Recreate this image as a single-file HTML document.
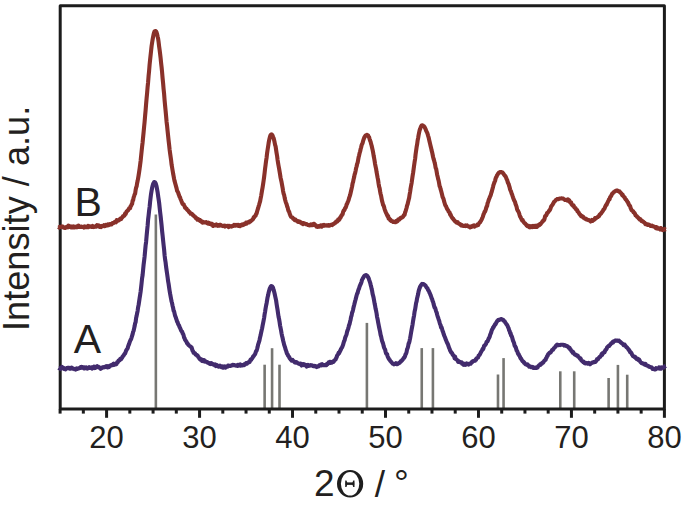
<!DOCTYPE html>
<html><head><meta charset="utf-8"><style>
html,body{margin:0;padding:0;background:#fff;}
body{width:685px;height:506px;position:relative;overflow:hidden;font-family:"Liberation Sans",sans-serif;color:#231f20;}
.tl{position:absolute;top:420.5px;width:60px;text-align:center;font-size:31px;line-height:34px;}
.xt{position:absolute;left:314px;top:464px;font-size:37px;line-height:40px;white-space:nowrap;}
.yt{position:absolute;left:0;top:0;font-size:36.2px;line-height:40px;white-space:nowrap;transform-origin:0 0;transform:translate(-3px,331px) rotate(-90deg);}
.lb{position:absolute;font-size:41px;line-height:44px;}
#w{position:absolute;left:0;top:0;width:685px;height:506px;}
</style></head><body><div id="w">
<svg width="685" height="506" viewBox="0 0 685 506" style="position:absolute;left:0;top:0">
<line x1="155.86" y1="214.5" x2="155.86" y2="408.1" stroke="#777773" stroke-width="2.6"/>
<line x1="264.63" y1="364.7" x2="264.63" y2="408.1" stroke="#777773" stroke-width="2.6"/>
<line x1="272.07" y1="348.2" x2="272.07" y2="408.1" stroke="#777773" stroke-width="2.6"/>
<line x1="279.51" y1="364.7" x2="279.51" y2="408.1" stroke="#777773" stroke-width="2.6"/>
<line x1="366.90" y1="322.9" x2="366.90" y2="408.1" stroke="#777773" stroke-width="2.6"/>
<line x1="421.75" y1="348.1" x2="421.75" y2="408.1" stroke="#777773" stroke-width="2.6"/>
<line x1="432.91" y1="348.1" x2="432.91" y2="408.1" stroke="#777773" stroke-width="2.6"/>
<line x1="497.99" y1="374.5" x2="497.99" y2="408.1" stroke="#777773" stroke-width="2.6"/>
<line x1="503.57" y1="358.1" x2="503.57" y2="408.1" stroke="#777773" stroke-width="2.6"/>
<line x1="560.28" y1="371.3" x2="560.28" y2="408.1" stroke="#777773" stroke-width="2.6"/>
<line x1="574.22" y1="371.3" x2="574.22" y2="408.1" stroke="#777773" stroke-width="2.6"/>
<line x1="608.62" y1="378" x2="608.62" y2="408.1" stroke="#777773" stroke-width="2.6"/>
<line x1="617.92" y1="364.9" x2="617.92" y2="408.1" stroke="#777773" stroke-width="2.6"/>
<line x1="627.22" y1="374.7" x2="627.22" y2="408.1" stroke="#777773" stroke-width="2.6"/>
<rect x="60.2" y="5.8" width="604.2" height="403.3" fill="none" stroke="#1c1c1c" stroke-width="3.0" stroke-linejoin="round"/>
<line x1="60.10" y1="409.1" x2="60.10" y2="413.6" stroke="#1c1c1c" stroke-width="3.0"/>
<line x1="83.34" y1="409.1" x2="83.34" y2="413.6" stroke="#1c1c1c" stroke-width="3.0"/>
<line x1="106.59" y1="409.1" x2="106.59" y2="417.8" stroke="#1c1c1c" stroke-width="3.0"/>
<line x1="129.83" y1="409.1" x2="129.83" y2="413.6" stroke="#1c1c1c" stroke-width="3.0"/>
<line x1="153.07" y1="409.1" x2="153.07" y2="413.6" stroke="#1c1c1c" stroke-width="3.0"/>
<line x1="176.31" y1="409.1" x2="176.31" y2="413.6" stroke="#1c1c1c" stroke-width="3.0"/>
<line x1="199.56" y1="409.1" x2="199.56" y2="417.8" stroke="#1c1c1c" stroke-width="3.0"/>
<line x1="222.80" y1="409.1" x2="222.80" y2="413.6" stroke="#1c1c1c" stroke-width="3.0"/>
<line x1="246.04" y1="409.1" x2="246.04" y2="413.6" stroke="#1c1c1c" stroke-width="3.0"/>
<line x1="269.28" y1="409.1" x2="269.28" y2="413.6" stroke="#1c1c1c" stroke-width="3.0"/>
<line x1="292.53" y1="409.1" x2="292.53" y2="417.8" stroke="#1c1c1c" stroke-width="3.0"/>
<line x1="315.77" y1="409.1" x2="315.77" y2="413.6" stroke="#1c1c1c" stroke-width="3.0"/>
<line x1="339.01" y1="409.1" x2="339.01" y2="413.6" stroke="#1c1c1c" stroke-width="3.0"/>
<line x1="362.25" y1="409.1" x2="362.25" y2="413.6" stroke="#1c1c1c" stroke-width="3.0"/>
<line x1="385.50" y1="409.1" x2="385.50" y2="417.8" stroke="#1c1c1c" stroke-width="3.0"/>
<line x1="408.74" y1="409.1" x2="408.74" y2="413.6" stroke="#1c1c1c" stroke-width="3.0"/>
<line x1="431.98" y1="409.1" x2="431.98" y2="413.6" stroke="#1c1c1c" stroke-width="3.0"/>
<line x1="455.22" y1="409.1" x2="455.22" y2="413.6" stroke="#1c1c1c" stroke-width="3.0"/>
<line x1="478.47" y1="409.1" x2="478.47" y2="417.8" stroke="#1c1c1c" stroke-width="3.0"/>
<line x1="501.71" y1="409.1" x2="501.71" y2="413.6" stroke="#1c1c1c" stroke-width="3.0"/>
<line x1="524.95" y1="409.1" x2="524.95" y2="413.6" stroke="#1c1c1c" stroke-width="3.0"/>
<line x1="548.19" y1="409.1" x2="548.19" y2="413.6" stroke="#1c1c1c" stroke-width="3.0"/>
<line x1="571.44" y1="409.1" x2="571.44" y2="417.8" stroke="#1c1c1c" stroke-width="3.0"/>
<line x1="594.68" y1="409.1" x2="594.68" y2="413.6" stroke="#1c1c1c" stroke-width="3.0"/>
<line x1="617.92" y1="409.1" x2="617.92" y2="413.6" stroke="#1c1c1c" stroke-width="3.0"/>
<line x1="641.16" y1="409.1" x2="641.16" y2="413.6" stroke="#1c1c1c" stroke-width="3.0"/>
<line x1="664.41" y1="409.1" x2="664.41" y2="417.8" stroke="#1c1c1c" stroke-width="3.0"/>
<polyline fill="none" stroke="#89312a" stroke-width="4.1" stroke-linejoin="round" points="58.6,226.9 59.1,227.5 59.6,226.9 60.1,227.2 60.6,227.0 61.1,226.7 61.6,226.4 62.1,226.4 62.6,226.5 63.1,227.4 63.6,227.6 64.1,227.4 64.6,227.9 65.1,227.3 65.6,227.8 66.1,227.2 66.6,226.9 67.1,226.7 67.6,226.5 68.1,227.3 68.6,225.7 69.1,226.4 69.6,226.9 70.1,226.8 70.6,226.5 71.1,227.4 71.6,226.5 72.1,226.6 72.6,227.4 73.1,226.7 73.6,226.3 74.1,227.5 74.6,227.4 75.1,227.3 75.6,226.8 76.1,227.0 76.6,226.4 77.1,227.3 77.6,226.9 78.1,226.8 78.6,225.7 79.1,226.7 79.6,227.0 80.1,226.9 80.6,226.8 81.1,226.6 81.6,226.5 82.1,227.0 82.6,227.0 83.1,227.0 83.6,226.8 84.1,227.6 84.6,226.5 85.1,226.9 85.6,226.7 86.1,227.2 86.6,227.2 87.1,227.0 87.6,226.8 88.1,225.9 88.6,227.2 89.1,226.6 89.6,226.4 90.1,226.5 90.6,226.4 91.1,226.8 91.6,226.9 92.1,226.8 92.6,226.0 93.1,227.0 93.6,227.1 94.1,227.0 94.6,226.6 95.1,226.6 95.6,226.6 96.1,225.9 96.6,226.5 97.1,225.2 97.6,225.5 98.1,225.8 98.6,225.3 99.1,226.0 99.6,226.9 100.1,226.9 100.6,226.5 101.1,227.0 101.6,226.3 102.1,225.9 102.6,226.0 103.1,225.8 103.6,226.1 104.1,225.2 104.6,226.1 105.1,225.4 105.6,225.8 106.1,224.8 106.6,225.1 107.1,225.1 107.6,225.3 108.1,224.3 108.6,225.2 109.1,224.6 109.6,224.1 110.1,224.6 110.6,224.1 111.1,224.3 111.6,224.5 112.1,223.7 112.6,223.0 113.1,222.9 113.6,223.0 114.1,222.7 114.6,222.1 115.1,221.8 115.6,222.0 116.1,222.3 116.6,220.1 117.1,221.1 117.6,220.5 118.1,220.6 118.6,220.5 119.1,220.0 119.6,219.3 120.1,218.9 120.6,218.4 121.1,219.1 121.6,218.1 122.1,217.5 122.6,217.0 123.1,216.1 123.6,216.1 124.1,215.9 124.6,215.2 125.1,213.6 125.6,214.1 126.1,212.7 126.6,211.6 127.1,211.2 127.6,210.6 128.1,210.3 128.6,209.3 129.1,208.4 129.6,208.2 130.1,208.2 130.6,206.3 131.1,205.7 131.6,204.4 132.1,204.0 132.6,200.8 133.1,200.3 133.6,197.7 134.1,196.2 134.6,194.5 135.1,193.7 135.6,190.2 136.1,187.6 136.6,186.5 137.1,183.3 137.6,181.0 138.1,178.3 138.6,175.4 139.1,172.1 139.6,168.7 140.1,164.9 140.6,161.0 141.1,156.1 141.6,151.4 142.1,146.6 142.6,142.4 143.1,137.2 143.6,132.3 144.1,126.9 144.6,121.9 145.1,115.8 145.6,110.4 146.1,104.0 146.6,98.4 147.1,93.1 147.6,87.1 148.1,82.2 148.6,75.9 149.1,70.9 149.6,64.6 150.1,59.8 150.6,55.2 151.1,50.6 151.6,46.0 152.1,42.8 152.6,39.7 153.1,36.8 153.6,34.3 154.1,32.6 154.6,31.4 155.1,31.0 155.6,31.1 156.1,31.4 156.6,32.4 157.1,34.3 157.6,36.5 158.1,38.4 158.6,42.1 159.1,46.2 159.6,49.7 160.1,53.7 160.6,58.1 161.1,63.0 161.6,67.2 162.1,72.4 162.6,78.2 163.1,83.2 163.6,89.1 164.1,93.8 164.6,100.3 165.1,105.7 165.6,110.8 166.1,116.2 166.6,121.9 167.1,126.0 167.6,131.0 168.1,135.7 168.6,140.5 169.1,144.7 169.6,149.4 170.1,153.2 170.6,156.7 171.1,160.3 171.6,164.7 172.1,167.5 172.6,170.5 173.1,173.5 173.6,176.1 174.1,178.9 174.6,181.2 175.1,182.9 175.6,184.8 176.1,186.6 176.6,188.3 177.1,190.9 177.6,191.5 178.1,192.4 178.6,194.1 179.1,195.3 179.6,196.8 180.1,197.5 180.6,199.1 181.1,200.1 181.6,201.5 182.1,202.8 182.6,204.0 183.1,204.3 183.6,204.2 184.1,205.3 184.6,206.3 185.1,207.7 185.6,207.9 186.1,208.7 186.6,208.8 187.1,209.7 187.6,210.3 188.1,210.4 188.6,211.4 189.1,212.1 189.6,212.1 190.1,213.0 190.6,213.7 191.1,213.5 191.6,213.8 192.1,214.1 192.6,214.5 193.1,215.3 193.6,215.6 194.1,216.2 194.6,216.6 195.1,216.8 195.6,217.5 196.1,218.4 196.6,218.2 197.1,218.7 197.6,219.8 198.1,219.8 198.6,219.3 199.1,220.0 199.6,219.8 200.1,221.0 200.6,220.5 201.1,221.2 201.6,222.0 202.1,221.6 202.6,222.6 203.1,222.0 203.6,222.5 204.1,222.3 204.6,222.4 205.1,222.5 205.6,222.4 206.1,222.1 206.6,222.9 207.1,223.0 207.6,223.4 208.1,223.6 208.6,222.7 209.1,223.8 209.6,223.9 210.1,223.3 210.6,224.1 211.1,224.4 211.6,223.9 212.1,223.9 212.6,224.6 213.1,226.0 213.6,225.3 214.1,224.9 214.6,225.3 215.1,225.1 215.6,225.3 216.1,225.5 216.6,224.5 217.1,225.5 217.6,225.8 218.1,225.1 218.6,225.0 219.1,225.6 219.6,224.8 220.1,224.9 220.6,224.9 221.1,225.5 221.6,225.8 222.1,225.7 222.6,225.9 223.1,226.1 223.6,226.0 224.1,225.6 224.6,225.9 225.1,226.6 225.6,225.8 226.1,226.1 226.6,226.0 227.1,226.1 227.6,225.7 228.1,225.7 228.6,227.1 229.1,226.5 229.6,225.9 230.1,226.2 230.6,226.5 231.1,226.1 231.6,226.5 232.1,226.0 232.6,226.0 233.1,226.0 233.6,225.7 234.1,224.8 234.6,225.6 235.1,225.6 235.6,225.6 236.1,225.0 236.6,225.5 237.1,225.6 237.6,224.9 238.1,224.8 238.6,225.8 239.1,225.2 239.6,225.9 240.1,226.2 240.6,225.0 241.1,224.8 241.6,225.0 242.1,225.2 242.6,224.4 243.1,225.1 243.6,224.8 244.1,224.4 244.6,223.7 245.1,224.0 245.6,223.7 246.1,222.6 246.6,223.6 247.1,222.5 247.6,222.6 248.1,222.1 248.6,222.3 249.1,222.4 249.6,221.5 250.1,221.0 250.6,221.3 251.1,220.6 251.6,220.4 252.1,220.1 252.6,219.4 253.1,219.2 253.6,217.5 254.1,217.3 254.6,216.2 255.1,216.1 255.6,215.8 256.1,214.0 256.6,213.5 257.1,211.5 257.6,209.7 258.1,208.3 258.6,206.4 259.1,204.8 259.6,203.0 260.1,201.3 260.6,198.7 261.1,196.1 261.6,193.1 262.1,190.1 262.6,187.3 263.1,184.1 263.6,180.7 264.1,177.1 264.6,173.1 265.1,168.5 265.6,164.8 266.1,160.8 266.6,157.6 267.1,153.1 267.6,149.7 268.1,146.6 268.6,143.2 269.1,140.4 269.6,138.2 270.1,136.3 270.6,135.1 271.1,134.5 271.6,134.4 272.1,134.8 272.6,135.6 273.1,137.0 273.6,138.1 274.1,140.1 274.6,142.3 275.1,144.8 275.6,146.4 276.1,149.9 276.6,153.1 277.1,156.0 277.6,160.0 278.1,163.1 278.6,166.0 279.1,168.6 279.6,171.7 280.1,174.7 280.6,177.9 281.1,180.0 281.6,182.3 282.1,185.1 282.6,187.8 283.1,191.1 283.6,193.7 284.1,194.8 284.6,197.5 285.1,199.7 285.6,201.6 286.1,203.0 286.6,204.3 287.1,206.3 287.6,207.4 288.1,209.6 288.6,211.2 289.1,211.6 289.6,213.5 290.1,214.7 290.6,216.0 291.1,216.8 291.6,217.2 292.1,217.2 292.6,217.7 293.1,218.7 293.6,218.5 294.1,219.1 294.6,220.1 295.1,220.0 295.6,219.7 296.1,220.4 296.6,220.9 297.1,220.8 297.6,221.6 298.1,221.8 298.6,221.3 299.1,221.6 299.6,222.0 300.1,221.8 300.6,222.6 301.1,222.6 301.6,223.3 302.1,222.9 302.6,223.0 303.1,224.1 303.6,223.2 304.1,223.4 304.6,223.4 305.1,223.7 305.6,223.7 306.1,224.2 306.6,224.1 307.1,224.4 307.6,224.9 308.1,225.1 308.6,225.2 309.1,224.9 309.6,225.4 310.1,225.3 310.6,225.3 311.1,224.5 311.6,225.2 312.1,224.6 312.6,225.1 313.1,224.6 313.6,223.9 314.1,223.9 314.6,225.1 315.1,224.6 315.6,225.6 316.1,225.5 316.6,226.7 317.1,226.2 317.6,226.9 318.1,226.8 318.6,226.1 319.1,226.1 319.6,226.6 320.1,226.0 320.6,225.5 321.1,226.2 321.6,226.6 322.1,225.5 322.6,225.9 323.1,225.2 323.6,225.6 324.1,225.0 324.6,225.7 325.1,225.5 325.6,225.3 326.1,225.6 326.6,225.4 327.1,225.2 327.6,225.2 328.1,225.6 328.6,225.1 329.1,225.6 329.6,225.6 330.1,225.4 330.6,224.9 331.1,225.0 331.6,224.8 332.1,225.1 332.6,224.2 333.1,224.1 333.6,224.0 334.1,223.7 334.6,223.1 335.1,222.6 335.6,222.7 336.1,221.5 336.6,221.6 337.1,221.7 337.6,221.1 338.1,219.7 338.6,220.3 339.1,219.8 339.6,219.2 340.1,217.6 340.6,217.6 341.1,216.0 341.6,215.8 342.1,214.6 342.6,214.2 343.1,212.0 343.6,210.6 344.1,210.6 344.6,209.6 345.1,208.1 345.6,207.8 346.1,206.4 346.6,204.6 347.1,203.7 347.6,202.4 348.1,201.2 348.6,199.9 349.1,198.0 349.6,196.6 350.1,195.1 350.6,193.0 351.1,190.8 351.6,188.6 352.1,186.4 352.6,183.4 353.1,181.9 353.6,179.2 354.1,177.3 354.6,174.5 355.1,173.2 355.6,170.8 356.1,168.1 356.6,166.5 357.1,164.0 357.6,162.8 358.1,160.1 358.6,157.3 359.1,155.4 359.6,153.1 360.1,151.5 360.6,149.2 361.1,147.5 361.6,145.2 362.1,144.2 362.6,143.0 363.1,141.0 363.6,139.4 364.1,138.1 364.6,136.9 365.1,136.2 365.6,135.5 366.1,135.2 366.6,134.9 367.1,134.8 367.6,135.2 368.1,135.5 368.6,136.5 369.1,137.2 369.6,139.1 370.1,140.6 370.6,141.8 371.1,143.9 371.6,145.5 372.1,147.8 372.6,149.9 373.1,152.4 373.6,155.5 374.1,158.0 374.6,160.9 375.1,164.1 375.6,166.6 376.1,168.9 376.6,172.2 377.1,174.8 377.6,177.7 378.1,180.1 378.6,183.6 379.1,186.6 379.6,188.1 380.1,191.4 380.6,194.0 381.1,195.8 381.6,198.6 382.1,201.2 382.6,202.9 383.1,205.0 383.6,205.5 384.1,207.2 384.6,209.1 385.1,210.5 385.6,211.8 386.1,212.9 386.6,214.0 387.1,215.0 387.6,216.4 388.1,216.0 388.6,218.5 389.1,218.4 389.6,218.8 390.1,220.1 390.6,219.8 391.1,220.9 391.6,220.8 392.1,221.3 392.6,221.6 393.1,221.9 393.6,221.5 394.1,221.8 394.6,222.1 395.1,221.6 395.6,222.2 396.1,221.8 396.6,220.9 397.1,221.5 397.6,221.1 398.1,219.7 398.6,219.9 399.1,219.8 399.6,219.3 400.1,218.3 400.6,217.9 401.1,218.1 401.6,217.6 402.1,217.5 402.6,217.0 403.1,216.7 403.6,215.6 404.1,214.8 404.6,214.9 405.1,212.4 405.6,211.3 406.1,209.5 406.6,207.7 407.1,205.5 407.6,204.2 408.1,202.0 408.6,200.1 409.1,198.1 409.6,194.7 410.1,192.0 410.6,188.4 411.1,185.7 411.6,183.1 412.1,179.4 412.6,175.9 413.1,172.9 413.6,169.3 414.1,165.6 414.6,161.9 415.1,159.0 415.6,154.3 416.1,150.8 416.6,147.2 417.1,144.4 417.6,140.7 418.1,138.2 418.6,135.1 419.1,132.7 419.6,130.3 420.1,129.1 420.6,127.5 421.1,126.4 421.6,125.6 422.1,125.3 422.6,125.3 423.1,125.7 423.6,126.0 424.1,126.5 424.6,127.1 425.1,128.1 425.6,129.1 426.1,130.6 426.6,131.6 427.1,132.6 427.6,133.9 428.1,135.8 428.6,137.3 429.1,139.6 429.6,141.7 430.1,143.9 430.6,145.9 431.1,147.9 431.6,150.4 432.1,152.1 432.6,154.5 433.1,157.0 433.6,159.0 434.1,160.5 434.6,162.6 435.1,164.5 435.6,167.8 436.1,168.7 436.6,171.4 437.1,174.4 437.6,176.4 438.1,178.8 438.6,180.5 439.1,183.2 439.6,186.2 440.1,187.1 440.6,189.2 441.1,190.8 441.6,192.8 442.1,194.8 442.6,197.0 443.1,197.9 443.6,199.3 444.1,201.4 444.6,203.0 445.1,204.8 445.6,205.7 446.1,206.3 446.6,207.8 447.1,209.0 447.6,209.6 448.1,210.3 448.6,211.6 449.1,212.1 449.6,212.4 450.1,214.6 450.6,214.6 451.1,215.9 451.6,216.8 452.1,217.6 452.6,218.4 453.1,218.5 453.6,219.8 454.1,220.1 454.6,220.5 455.1,221.3 455.6,221.7 456.1,222.1 456.6,222.7 457.1,222.5 457.6,222.1 458.1,223.2 458.6,223.4 459.1,223.8 459.6,223.9 460.1,224.1 460.6,225.0 461.1,225.4 461.6,224.8 462.1,225.6 462.6,225.5 463.1,225.5 463.6,226.0 464.1,225.9 464.6,225.7 465.1,226.0 465.6,225.3 466.1,225.8 466.6,225.8 467.1,225.5 467.6,226.2 468.1,226.4 468.6,226.3 469.1,226.6 469.6,227.1 470.1,227.4 470.6,226.6 471.1,226.9 471.6,226.9 472.1,226.3 472.6,225.8 473.1,225.6 473.6,225.7 474.1,225.4 474.6,226.6 475.1,225.6 475.6,225.9 476.1,225.7 476.6,225.7 477.1,225.1 477.6,224.4 478.1,225.1 478.6,223.9 479.1,223.3 479.6,222.6 480.1,222.3 480.6,221.3 481.1,220.6 481.6,219.6 482.1,218.4 482.6,217.4 483.1,215.8 483.6,214.1 484.1,213.4 484.6,211.7 485.1,211.7 485.6,210.0 486.1,208.5 486.6,206.5 487.1,206.1 487.6,203.2 488.1,201.9 488.6,200.5 489.1,198.9 489.6,197.8 490.1,196.4 490.6,195.5 491.1,193.7 491.6,192.2 492.1,190.3 492.6,188.4 493.1,186.6 493.6,184.6 494.1,183.2 494.6,181.8 495.1,180.8 495.6,178.5 496.1,177.3 496.6,176.6 497.1,175.1 497.6,174.6 498.1,173.6 498.6,173.0 499.1,172.5 499.6,172.4 500.1,172.1 500.6,172.0 501.1,172.0 501.6,172.2 502.1,172.5 502.6,172.6 503.1,173.2 503.6,173.9 504.1,174.7 504.6,175.4 505.1,176.0 505.6,176.5 506.1,177.6 506.6,179.2 507.1,179.8 507.6,181.8 508.1,183.2 508.6,183.8 509.1,185.8 509.6,187.2 510.1,189.5 510.6,190.6 511.1,191.7 511.6,193.6 512.1,194.5 512.6,196.2 513.1,197.7 513.6,199.0 514.1,200.3 514.6,201.2 515.1,202.2 515.6,204.2 516.1,205.4 516.6,206.9 517.1,209.4 517.6,210.4 518.1,211.2 518.6,212.0 519.1,213.2 519.6,215.1 520.1,216.5 520.6,217.2 521.1,218.3 521.6,219.3 522.1,220.4 522.6,219.9 523.1,221.2 523.6,221.9 524.1,222.7 524.6,223.1 525.1,223.3 525.6,224.1 526.1,224.4 526.6,225.5 527.1,225.9 527.6,226.2 528.1,225.9 528.6,225.9 529.1,227.0 529.6,226.6 530.1,227.3 530.6,226.8 531.1,226.1 531.6,226.9 532.1,227.1 532.6,226.4 533.1,225.8 533.6,226.8 534.1,226.6 534.6,226.8 535.1,225.8 535.6,227.0 536.1,225.8 536.6,226.4 537.1,226.8 537.6,225.4 538.1,225.0 538.6,225.1 539.1,225.4 539.6,225.0 540.1,223.8 540.6,224.0 541.1,223.3 541.6,222.7 542.1,222.1 542.6,221.1 543.1,221.1 543.6,220.4 544.1,220.2 544.6,218.6 545.1,216.3 545.6,215.8 546.1,215.5 546.6,214.5 547.1,213.0 547.6,213.0 548.1,212.2 548.6,211.6 549.1,210.7 549.6,210.2 550.1,209.5 550.6,208.2 551.1,206.7 551.6,205.9 552.1,205.2 552.6,204.6 553.1,203.6 553.6,202.8 554.1,201.7 554.6,201.6 555.1,200.9 555.6,200.4 556.1,199.7 556.6,199.6 557.1,199.1 557.6,199.0 558.1,199.0 558.6,199.2 559.1,198.8 559.6,198.5 560.1,198.6 560.6,198.5 561.1,198.4 561.6,198.3 562.1,198.4 562.6,198.5 563.1,198.6 563.6,198.9 564.1,199.2 564.6,199.8 565.1,200.0 565.6,200.0 566.1,199.8 566.6,200.0 567.1,200.0 567.6,200.6 568.1,199.3 568.6,200.6 569.1,200.1 569.6,201.3 570.1,202.3 570.6,202.1 571.1,202.3 571.6,204.3 572.1,204.9 572.6,205.0 573.1,205.8 573.6,205.5 574.1,206.8 574.6,207.6 575.1,207.8 575.6,208.3 576.1,209.4 576.6,210.0 577.1,210.0 577.6,211.5 578.1,211.9 578.6,212.4 579.1,213.5 579.6,214.1 580.1,214.8 580.6,215.0 581.1,216.1 581.6,215.9 582.1,216.7 582.6,216.5 583.1,216.7 583.6,217.8 584.1,217.9 584.6,218.2 585.1,218.7 585.6,219.0 586.1,218.8 586.6,219.5 587.1,219.7 587.6,219.8 588.1,220.1 588.6,220.1 589.1,220.1 589.6,220.3 590.1,220.7 590.6,221.5 591.1,220.4 591.6,220.9 592.1,220.0 592.6,220.9 593.1,219.9 593.6,219.8 594.1,219.9 594.6,219.4 595.1,218.1 595.6,218.6 596.1,217.9 596.6,217.9 597.1,217.4 597.6,217.2 598.1,216.7 598.6,216.1 599.1,216.2 599.6,214.7 600.1,214.5 600.6,213.7 601.1,213.4 601.6,212.6 602.1,212.0 602.6,211.2 603.1,210.5 603.6,209.3 604.1,209.1 604.6,208.3 605.1,207.0 605.6,205.9 606.1,204.9 606.6,204.8 607.1,203.3 607.6,202.5 608.1,201.3 608.6,200.3 609.1,199.2 609.6,199.2 610.1,197.1 610.6,196.9 611.1,195.9 611.6,195.0 612.1,193.8 612.6,193.2 613.1,193.2 613.6,192.2 614.1,192.1 614.6,191.6 615.1,191.3 615.6,191.0 616.1,190.6 616.6,190.6 617.1,190.7 617.6,190.6 618.1,191.1 618.6,191.0 619.1,191.3 619.6,191.5 620.1,192.4 620.6,192.6 621.1,193.3 621.6,193.7 622.1,195.1 622.6,194.6 623.1,195.9 623.6,196.4 624.1,197.1 624.6,197.2 625.1,198.6 625.6,199.3 626.1,199.7 626.6,200.5 627.1,201.1 627.6,202.2 628.1,202.5 628.6,204.0 629.1,205.0 629.6,205.5 630.1,206.1 630.6,208.1 631.1,209.0 631.6,210.3 632.1,210.6 632.6,211.0 633.1,211.2 633.6,212.3 634.1,212.7 634.6,213.1 635.1,214.2 635.6,215.3 636.1,215.7 636.6,215.9 637.1,217.0 637.6,217.1 638.1,217.4 638.6,218.5 639.1,218.5 639.6,219.4 640.1,219.5 640.6,219.4 641.1,220.3 641.6,221.1 642.1,221.0 642.6,221.2 643.1,221.7 643.6,222.1 644.1,222.4 644.6,222.7 645.1,223.7 645.6,224.2 646.1,223.8 646.6,224.3 647.1,224.5 647.6,224.9 648.1,224.4 648.6,224.5 649.1,225.0 649.6,225.0 650.1,225.3 650.6,225.9 651.1,225.5 651.6,225.9 652.1,225.7 652.6,226.2 653.1,226.2 653.6,226.4 654.1,226.7 654.6,226.9 655.1,227.4 655.6,227.8 656.1,227.2 656.6,228.3 657.1,227.3 657.6,228.5 658.1,228.8 658.6,228.5 659.1,228.8 659.6,228.7 660.1,229.5 660.6,228.0 661.1,228.9 661.6,228.7 662.1,229.6 662.6,230.1 663.1,230.0 663.6,229.7 664.1,229.4 664.6,228.9 665.1,229.5 665.6,229.2"/>
<polyline fill="none" stroke="#422b6d" stroke-width="4.1" stroke-linejoin="round" points="58.6,367.8 59.1,368.2 59.6,368.4 60.1,368.1 60.6,368.8 61.1,368.2 61.6,368.3 62.1,366.9 62.6,368.3 63.1,368.4 63.6,367.8 64.1,368.8 64.6,368.6 65.1,368.9 65.6,369.3 66.1,368.6 66.6,368.1 67.1,368.3 67.6,367.8 68.1,367.9 68.6,367.9 69.1,367.9 69.6,368.6 70.1,368.4 70.6,367.8 71.1,368.6 71.6,367.6 72.1,368.0 72.6,368.3 73.1,368.8 73.6,368.7 74.1,368.7 74.6,369.2 75.1,369.1 75.6,369.5 76.1,368.7 76.6,368.3 77.1,368.6 77.6,368.9 78.1,368.5 78.6,368.5 79.1,368.2 79.6,368.0 80.1,367.9 80.6,367.2 81.1,367.8 81.6,367.0 82.1,367.4 82.6,367.1 83.1,367.9 83.6,367.3 84.1,368.5 84.6,367.4 85.1,368.0 85.6,367.8 86.1,367.5 86.6,368.4 87.1,367.8 87.6,368.6 88.1,367.6 88.6,367.6 89.1,367.1 89.6,368.0 90.1,368.0 90.6,367.7 91.1,367.6 91.6,367.3 92.1,368.6 92.6,368.0 93.1,367.1 93.6,367.6 94.1,366.6 94.6,368.1 95.1,368.0 95.6,367.7 96.1,367.0 96.6,366.6 97.1,366.2 97.6,367.0 98.1,366.6 98.6,366.9 99.1,367.1 99.6,367.5 100.1,368.3 100.6,368.8 101.1,368.3 101.6,368.2 102.1,367.6 102.6,367.3 103.1,367.1 103.6,367.5 104.1,367.1 104.6,367.2 105.1,366.9 105.6,366.5 106.1,366.2 106.6,366.6 107.1,366.2 107.6,367.4 108.1,366.7 108.6,366.3 109.1,367.0 109.6,365.9 110.1,366.0 110.6,365.5 111.1,365.4 111.6,364.8 112.1,364.9 112.6,365.1 113.1,364.0 113.6,363.6 114.1,364.9 114.6,364.4 115.1,364.5 115.6,363.9 116.1,364.3 116.6,364.0 117.1,362.4 117.6,362.5 118.1,361.5 118.6,360.6 119.1,360.5 119.6,360.3 120.1,359.1 120.6,358.7 121.1,359.2 121.6,358.2 122.1,357.8 122.6,356.6 123.1,356.0 123.6,355.5 124.1,354.6 124.6,353.8 125.1,353.5 125.6,352.1 126.1,350.6 126.6,349.8 127.1,349.1 127.6,348.4 128.1,346.4 128.6,345.1 129.1,343.9 129.6,342.3 130.1,341.0 130.6,339.9 131.1,339.1 131.6,337.5 132.1,335.7 132.6,334.3 133.1,331.8 133.6,330.8 134.1,328.6 134.6,326.3 135.1,323.3 135.6,322.3 136.1,317.9 136.6,316.0 137.1,313.3 137.6,311.1 138.1,307.3 138.6,304.9 139.1,301.6 139.6,298.2 140.1,295.1 140.6,291.7 141.1,287.4 141.6,283.1 142.1,278.1 142.6,275.1 143.1,269.9 143.6,264.7 144.1,260.7 144.6,256.5 145.1,251.0 145.6,245.6 146.1,241.9 146.6,236.1 147.1,230.8 147.6,225.9 148.1,219.6 148.6,215.5 149.1,210.7 149.6,207.0 150.1,201.7 150.6,197.6 151.1,193.6 151.6,190.6 152.1,188.0 152.6,185.8 153.1,184.0 153.6,183.1 154.1,182.2 154.6,182.0 155.1,182.4 155.6,183.3 156.1,184.7 156.6,186.6 157.1,189.4 157.6,192.1 158.1,195.9 158.6,199.1 159.1,202.5 159.6,207.2 160.1,211.9 160.6,215.9 161.1,220.7 161.6,225.5 162.1,231.0 162.6,235.5 163.1,240.4 163.6,245.1 164.1,249.5 164.6,255.2 165.1,259.4 165.6,262.5 166.1,266.9 166.6,270.4 167.1,273.7 167.6,277.3 168.1,281.2 168.6,283.9 169.1,287.4 169.6,290.7 170.1,293.7 170.6,296.3 171.1,299.0 171.6,301.5 172.1,303.3 172.6,305.9 173.1,307.8 173.6,310.6 174.1,311.4 174.6,313.6 175.1,315.7 175.6,316.9 176.1,318.5 176.6,319.9 177.1,321.6 177.6,322.3 178.1,323.9 178.6,325.0 179.1,325.5 179.6,327.2 180.1,328.0 180.6,329.2 181.1,330.4 181.6,331.3 182.1,331.7 182.6,333.4 183.1,333.9 183.6,335.4 184.1,337.6 184.6,338.3 185.1,340.0 185.6,340.4 186.1,341.4 186.6,341.8 187.1,343.4 187.6,343.6 188.1,344.5 188.6,345.0 189.1,345.5 189.6,345.9 190.1,346.2 190.6,346.7 191.1,347.1 191.6,347.4 192.1,349.2 192.6,350.8 193.1,351.4 193.6,352.8 194.1,352.9 194.6,353.0 195.1,353.5 195.6,354.5 196.1,354.6 196.6,354.8 197.1,355.7 197.6,355.6 198.1,356.8 198.6,357.2 199.1,358.0 199.6,358.9 200.1,358.8 200.6,359.8 201.1,360.1 201.6,359.6 202.1,361.0 202.6,359.9 203.1,360.6 203.6,361.2 204.1,360.2 204.6,361.6 205.1,361.7 205.6,361.3 206.1,361.6 206.6,361.8 207.1,361.9 207.6,362.7 208.1,362.5 208.6,362.9 209.1,363.3 209.6,363.7 210.1,364.0 210.6,363.2 211.1,363.1 211.6,364.0 212.1,364.2 212.6,363.9 213.1,364.5 213.6,364.7 214.1,364.7 214.6,365.3 215.1,364.4 215.6,365.0 216.1,366.0 216.6,365.7 217.1,365.2 217.6,365.9 218.1,366.3 218.6,366.7 219.1,366.2 219.6,366.4 220.1,365.7 220.6,366.2 221.1,367.0 221.6,366.4 222.1,366.9 222.6,366.3 223.1,367.7 223.6,367.0 224.1,367.3 224.6,366.4 225.1,366.5 225.6,367.6 226.1,366.7 226.6,366.5 227.1,366.8 227.6,366.6 228.1,365.5 228.6,365.7 229.1,366.0 229.6,365.9 230.1,366.0 230.6,365.7 231.1,365.6 231.6,365.6 232.1,365.1 232.6,364.9 233.1,364.9 233.6,365.1 234.1,365.1 234.6,365.1 235.1,365.3 235.6,365.5 236.1,365.7 236.6,365.8 237.1,365.1 237.6,365.9 238.1,364.8 238.6,365.5 239.1,364.9 239.6,365.4 240.1,365.6 240.6,364.5 241.1,365.6 241.6,365.5 242.1,365.2 242.6,365.5 243.1,365.1 243.6,365.2 244.1,364.5 244.6,364.8 245.1,364.4 245.6,364.0 246.1,363.2 246.6,363.8 247.1,363.7 247.6,362.7 248.1,362.4 248.6,362.2 249.1,362.3 249.6,361.9 250.1,360.7 250.6,359.6 251.1,359.8 251.6,359.0 252.1,358.4 252.6,357.8 253.1,356.5 253.6,356.3 254.1,355.4 254.6,354.8 255.1,354.2 255.6,352.6 256.1,351.1 256.6,350.6 257.1,349.0 257.6,347.1 258.1,344.7 258.6,343.2 259.1,341.7 259.6,339.7 260.1,337.2 260.6,335.3 261.1,332.7 261.6,330.5 262.1,328.4 262.6,325.7 263.1,323.2 263.6,320.7 264.1,318.0 264.6,314.4 265.1,311.6 265.6,308.3 266.1,305.5 266.6,303.2 267.1,300.2 267.6,297.2 268.1,295.3 268.6,292.7 269.1,290.8 269.6,289.1 270.1,287.8 270.6,286.8 271.1,286.1 271.6,286.2 272.1,286.4 272.6,287.0 273.1,288.0 273.6,290.0 274.1,291.5 274.6,293.5 275.1,295.9 275.6,298.1 276.1,300.4 276.6,304.0 277.1,307.1 277.6,310.1 278.1,313.7 278.6,317.0 279.1,319.1 279.6,322.2 280.1,325.6 280.6,328.1 281.1,330.7 281.6,333.6 282.1,336.0 282.6,338.0 283.1,340.5 283.6,342.4 284.1,344.6 284.6,346.1 285.1,347.5 285.6,349.5 286.1,350.7 286.6,352.5 287.1,353.9 287.6,354.4 288.1,355.6 288.6,356.2 289.1,357.0 289.6,358.0 290.1,358.7 290.6,359.5 291.1,359.8 291.6,360.7 292.1,360.3 292.6,360.0 293.1,361.0 293.6,361.0 294.1,361.7 294.6,362.3 295.1,361.8 295.6,362.2 296.1,362.6 296.6,362.1 297.1,362.7 297.6,363.0 298.1,363.3 298.6,363.7 299.1,363.8 299.6,364.1 300.1,363.7 300.6,363.6 301.1,364.4 301.6,365.5 302.1,365.1 302.6,364.2 303.1,364.8 303.6,365.1 304.1,364.2 304.6,365.2 305.1,364.6 305.6,365.5 306.1,365.3 306.6,366.6 307.1,365.0 307.6,365.6 308.1,364.9 308.6,365.9 309.1,365.5 309.6,365.8 310.1,365.5 310.6,365.1 311.1,365.4 311.6,365.2 312.1,365.2 312.6,365.7 313.1,366.1 313.6,366.1 314.1,366.1 314.6,365.9 315.1,366.5 315.6,366.2 316.1,366.8 316.6,367.1 317.1,366.6 317.6,366.4 318.1,366.2 318.6,366.4 319.1,365.7 319.6,365.0 320.1,365.1 320.6,364.6 321.1,365.4 321.6,364.7 322.1,364.2 322.6,364.9 323.1,365.2 323.6,365.2 324.1,365.0 324.6,365.2 325.1,365.1 325.6,365.2 326.1,364.6 326.6,365.0 327.1,363.8 327.6,364.1 328.1,363.3 328.6,362.3 329.1,362.3 329.6,361.9 330.1,361.9 330.6,362.9 331.1,362.2 331.6,362.6 332.1,361.9 332.6,362.1 333.1,361.4 333.6,361.8 334.1,360.9 334.6,360.3 335.1,359.7 335.6,359.7 336.1,358.2 336.6,357.3 337.1,355.6 337.6,354.9 338.1,354.4 338.6,352.8 339.1,353.2 339.6,352.0 340.1,351.0 340.6,350.0 341.1,349.0 341.6,347.9 342.1,347.4 342.6,346.0 343.1,344.8 343.6,342.8 344.1,341.1 344.6,340.4 345.1,337.9 345.6,336.6 346.1,335.5 346.6,334.1 347.1,331.6 347.6,330.4 348.1,328.9 348.6,327.1 349.1,325.1 349.6,323.9 350.1,321.6 350.6,319.7 351.1,316.9 351.6,315.5 352.1,312.7 352.6,311.6 353.1,309.5 353.6,307.1 354.1,305.3 354.6,303.3 355.1,301.2 355.6,299.5 356.1,297.5 356.6,295.5 357.1,293.7 357.6,293.0 358.1,290.9 358.6,289.4 359.1,288.3 359.6,286.5 360.1,285.2 360.6,284.3 361.1,283.1 361.6,281.6 362.1,279.6 362.6,278.9 363.1,277.8 363.6,277.1 364.1,276.2 364.6,275.7 365.1,275.5 365.6,275.2 366.1,275.1 366.6,275.4 367.1,275.8 367.6,276.3 368.1,277.3 368.6,278.1 369.1,279.7 369.6,281.1 370.1,282.6 370.6,284.6 371.1,286.4 371.6,288.8 372.1,290.8 372.6,293.9 373.1,295.7 373.6,297.8 374.1,300.7 374.6,303.5 375.1,305.8 375.6,308.8 376.1,310.8 376.6,313.5 377.1,317.1 377.6,319.2 378.1,322.1 378.6,324.7 379.1,327.3 379.6,329.6 380.1,331.9 380.6,334.8 381.1,336.4 381.6,338.8 382.1,341.0 382.6,342.4 383.1,343.6 383.6,345.9 384.1,347.6 384.6,348.7 385.1,349.5 385.6,351.7 386.1,353.6 386.6,353.6 387.1,354.3 387.6,356.3 388.1,357.3 388.6,358.4 389.1,359.2 389.6,359.7 390.1,360.6 390.6,361.2 391.1,361.8 391.6,362.4 392.1,362.9 392.6,363.6 393.1,363.8 393.6,363.7 394.1,364.4 394.6,363.8 395.1,363.9 395.6,364.0 396.1,363.2 396.6,363.7 397.1,364.2 397.6,364.1 398.1,363.3 398.6,363.3 399.1,362.9 399.6,362.9 400.1,362.4 400.6,361.3 401.1,361.4 401.6,360.7 402.1,360.2 402.6,359.5 403.1,359.1 403.6,358.0 404.1,358.0 404.6,357.1 405.1,355.9 405.6,354.2 406.1,353.6 406.6,352.0 407.1,349.2 407.6,348.3 408.1,346.5 408.6,343.6 409.1,342.8 409.6,340.7 410.1,338.3 410.6,335.5 411.1,332.5 411.6,329.6 412.1,327.0 412.6,324.3 413.1,320.8 413.6,317.9 414.1,315.3 414.6,311.4 415.1,309.5 415.6,306.4 416.1,303.0 416.6,301.3 417.1,298.2 417.6,296.4 418.1,294.3 418.6,291.4 419.1,289.6 419.6,288.3 420.1,286.7 420.6,286.0 421.1,285.1 421.6,284.5 422.1,283.9 422.6,284.0 423.1,284.1 423.6,284.1 424.1,284.7 424.6,284.7 425.1,285.4 425.6,285.6 426.1,286.7 426.6,287.6 427.1,287.9 427.6,288.7 428.1,290.1 428.6,290.5 429.1,291.6 429.6,292.9 430.1,293.8 430.6,295.3 431.1,296.5 431.6,298.2 432.1,299.0 432.6,301.0 433.1,301.9 433.6,304.1 434.1,305.9 434.6,307.6 435.1,307.7 435.6,309.5 436.1,311.3 436.6,312.3 437.1,314.5 437.6,316.2 438.1,317.6 438.6,319.2 439.1,320.6 439.6,322.5 440.1,324.2 440.6,325.2 441.1,327.5 441.6,327.4 442.1,329.2 442.6,331.1 443.1,331.9 443.6,333.9 444.1,335.4 444.6,336.5 445.1,337.6 445.6,339.2 446.1,340.3 446.6,341.6 447.1,342.8 447.6,343.6 448.1,344.8 448.6,346.4 449.1,347.9 449.6,348.9 450.1,350.5 450.6,351.2 451.1,352.3 451.6,352.8 452.1,353.3 452.6,354.6 453.1,355.2 453.6,355.4 454.1,356.3 454.6,358.2 455.1,356.7 455.6,359.0 456.1,359.1 456.6,359.6 457.1,360.0 457.6,360.4 458.1,361.8 458.6,361.1 459.1,361.4 459.6,362.1 460.1,362.1 460.6,362.1 461.1,362.3 461.6,362.3 462.1,363.7 462.6,363.3 463.1,363.2 463.6,364.8 464.1,364.9 464.6,364.7 465.1,364.4 465.6,364.9 466.1,363.9 466.6,363.3 467.1,364.1 467.6,364.2 468.1,364.0 468.6,364.5 469.1,364.0 469.6,363.5 470.1,363.4 470.6,363.7 471.1,363.0 471.6,362.6 472.1,361.6 472.6,361.7 473.1,361.0 473.6,361.2 474.1,360.8 474.6,360.6 475.1,360.7 475.6,359.5 476.1,359.7 476.6,358.2 477.1,358.1 477.6,357.8 478.1,357.5 478.6,355.7 479.1,355.3 479.6,354.8 480.1,354.0 480.6,352.9 481.1,351.8 481.6,351.0 482.1,350.4 482.6,349.0 483.1,349.1 483.6,347.9 484.1,345.8 484.6,345.4 485.1,345.2 485.6,344.4 486.1,343.6 486.6,341.9 487.1,341.5 487.6,341.3 488.1,340.0 488.6,338.7 489.1,337.9 489.6,336.8 490.1,335.1 490.6,333.8 491.1,332.7 491.6,330.7 492.1,329.4 492.6,329.0 493.1,327.3 493.6,327.1 494.1,325.9 494.6,325.7 495.1,324.2 495.6,324.2 496.1,323.0 496.6,322.1 497.1,321.2 497.6,320.8 498.1,320.1 498.6,319.8 499.1,320.0 499.6,319.7 500.1,319.6 500.6,319.2 501.1,319.1 501.6,319.1 502.1,319.5 502.6,319.8 503.1,319.7 503.6,320.7 504.1,321.0 504.6,321.3 505.1,322.2 505.6,323.1 506.1,323.5 506.6,324.4 507.1,325.0 507.6,325.9 508.1,327.4 508.6,328.1 509.1,330.2 509.6,330.9 510.1,333.0 510.6,333.2 511.1,335.5 511.6,336.0 512.1,337.3 512.6,339.1 513.1,340.8 513.6,341.9 514.1,343.3 514.6,345.6 515.1,346.4 515.6,347.0 516.1,348.5 516.6,350.4 517.1,351.0 517.6,352.3 518.1,353.9 518.6,354.0 519.1,355.4 519.6,356.0 520.1,357.2 520.6,358.3 521.1,358.4 521.6,359.7 522.1,360.4 522.6,361.4 523.1,361.4 523.6,361.8 524.1,362.9 524.6,362.9 525.1,363.8 525.6,364.3 526.1,364.2 526.6,364.8 527.1,364.9 527.6,364.5 528.1,365.4 528.6,365.5 529.1,366.5 529.6,366.2 530.1,366.7 530.6,366.8 531.1,367.2 531.6,366.7 532.1,366.7 532.6,367.2 533.1,367.8 533.6,367.4 534.1,367.8 534.6,367.9 535.1,367.8 535.6,367.5 536.1,367.9 536.6,367.5 537.1,367.2 537.6,367.5 538.1,366.2 538.6,365.9 539.1,365.2 539.6,365.3 540.1,364.3 540.6,364.7 541.1,363.6 541.6,363.7 542.1,363.5 542.6,362.6 543.1,362.6 543.6,361.8 544.1,361.0 544.6,360.4 545.1,360.0 545.6,359.8 546.1,358.1 546.6,357.6 547.1,356.2 547.6,355.8 548.1,354.4 548.6,353.8 549.1,353.5 549.6,352.7 550.1,352.4 550.6,352.5 551.1,351.6 551.6,350.9 552.1,350.1 552.6,349.8 553.1,349.8 553.6,348.6 554.1,347.9 554.6,347.6 555.1,347.0 555.6,346.5 556.1,345.6 556.6,345.0 557.1,344.6 557.6,344.8 558.1,344.9 558.6,345.2 559.1,345.1 559.6,345.0 560.1,345.1 560.6,344.8 561.1,344.8 561.6,344.7 562.1,344.7 562.6,344.8 563.1,344.8 563.6,344.9 564.1,345.5 564.6,345.0 565.1,345.3 565.6,345.6 566.1,346.0 566.6,346.1 567.1,346.1 567.6,346.4 568.1,346.8 568.6,347.7 569.1,347.7 569.6,347.8 570.1,349.4 570.6,349.4 571.1,350.4 571.6,351.4 572.1,351.4 572.6,352.6 573.1,351.9 573.6,353.1 574.1,353.7 574.6,354.4 575.1,354.3 575.6,355.0 576.1,355.3 576.6,355.6 577.1,355.3 577.6,355.4 578.1,356.6 578.6,357.0 579.1,357.4 579.6,358.1 580.1,358.8 580.6,358.5 581.1,359.8 581.6,360.6 582.1,361.0 582.6,361.4 583.1,362.0 583.6,361.6 584.1,362.3 584.6,363.1 585.1,363.5 585.6,363.2 586.1,362.9 586.6,363.0 587.1,363.3 587.6,363.7 588.1,363.3 588.6,362.8 589.1,363.4 589.6,363.4 590.1,364.3 590.6,363.6 591.1,363.4 591.6,363.2 592.1,362.6 592.6,362.4 593.1,362.4 593.6,362.1 594.1,362.2 594.6,361.9 595.1,362.0 595.6,361.8 596.1,360.9 596.6,360.3 597.1,359.1 597.6,359.5 598.1,359.1 598.6,358.0 599.1,357.6 599.6,356.9 600.1,356.9 600.6,356.0 601.1,355.6 601.6,354.1 602.1,355.0 602.6,353.2 603.1,352.8 603.6,352.8 604.1,352.0 604.6,352.2 605.1,350.7 605.6,349.8 606.1,349.6 606.6,348.9 607.1,347.4 607.6,346.9 608.1,346.4 608.6,345.9 609.1,346.0 609.6,345.3 610.1,344.7 610.6,344.3 611.1,343.4 611.6,343.3 612.1,342.6 612.6,342.0 613.1,342.4 613.6,341.2 614.1,341.3 614.6,340.9 615.1,340.6 615.6,340.7 616.1,340.6 616.6,340.6 617.1,340.5 617.6,340.7 618.1,340.8 618.6,341.0 619.1,340.7 619.6,341.3 620.1,341.7 620.6,342.5 621.1,342.6 621.6,343.2 622.1,343.4 622.6,343.8 623.1,344.2 623.6,345.2 624.1,344.7 624.6,344.5 625.1,345.8 625.6,345.9 626.1,346.8 626.6,347.3 627.1,347.6 627.6,348.2 628.1,348.8 628.6,349.7 629.1,350.0 629.6,351.0 630.1,352.1 630.6,352.0 631.1,352.8 631.6,353.5 632.1,354.7 632.6,355.3 633.1,356.2 633.6,356.4 634.1,356.6 634.6,357.2 635.1,356.9 635.6,358.0 636.1,358.2 636.6,359.2 637.1,359.2 637.6,358.7 638.1,359.1 638.6,360.1 639.1,359.5 639.6,360.4 640.1,361.5 640.6,362.1 641.1,362.4 641.6,363.2 642.1,363.0 642.6,363.5 643.1,363.6 643.6,363.5 644.1,364.2 644.6,364.2 645.1,364.7 645.6,364.0 646.1,365.3 646.6,365.3 647.1,365.4 647.6,365.8 648.1,365.7 648.6,366.4 649.1,366.7 649.6,366.8 650.1,367.1 650.6,367.2 651.1,367.4 651.6,367.3 652.1,368.0 652.6,368.9 653.1,369.0 653.6,368.7 654.1,369.0 654.6,369.4 655.1,368.8 655.6,369.3 656.1,368.2 656.6,368.7 657.1,368.5 657.6,368.3 658.1,368.3 658.6,368.4 659.1,367.4 659.6,368.4 660.1,368.7 660.6,368.5 661.1,368.6 661.6,367.5 662.1,367.8 662.6,367.7 663.1,367.3 663.6,367.6 664.1,367.0 664.6,366.3 665.1,366.4 665.6,366.0"/>
<path fill="#1e1e1e" fill-rule="evenodd" d="M337.0,483.8 a13.1,13.8 0 1,0 26.2,0 a13.1,13.8 0 1,0 -26.2,0 Z M340.90000000000003,483.8 a9.2,11.8 0 1,0 18.4,0 a9.2,11.8 0 1,0 -18.4,0 Z"/>
<rect x="345.6" y="482.4" width="8.6" height="2.5" fill="#1e1e1e"/>
<path fill="#1e1e1e" d="M345.2,480.6 L346.5,480.6 L347.2,482.6 L347.2,484.8 L346.5,486.9 L345.2,486.9 Z M353.2,480.6 L354.5,480.6 L354.5,486.9 L353.2,486.9 L352.5,484.8 L352.5,482.6 Z"/>
</svg>
<div class="tl" style="left:76.6px">20</div><div class="tl" style="left:169.6px">30</div><div class="tl" style="left:262.5px">40</div><div class="tl" style="left:355.5px">50</div><div class="tl" style="left:448.5px">60</div><div class="tl" style="left:541.4px">70</div><div class="tl" style="left:634.4px">80</div>
<div class="xt"><span style="position:absolute;left:0">2</span><span style="position:absolute;left:60.8px;top:0.5px">/</span><span style="position:absolute;left:80px;top:0.3px">&deg;</span></div>
<div class="yt">Intensity / a.u.</div>
<div class="lb" style="left:74.5px;top:180px">B</div>
<div class="lb" style="left:73.8px;top:317px">A</div>
</div></body></html>
